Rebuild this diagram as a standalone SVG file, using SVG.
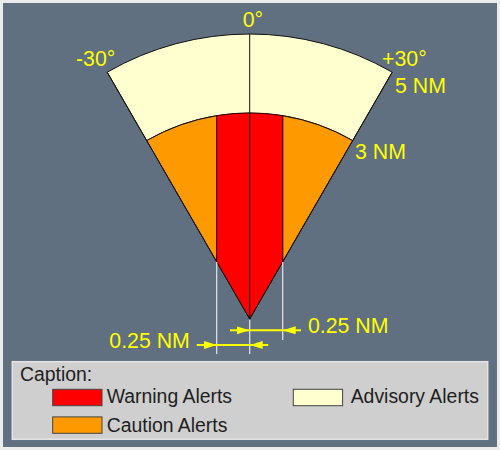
<svg xmlns="http://www.w3.org/2000/svg" width="500" height="450" viewBox="0 0 500 450">
<defs>
<style>
.lbl{font-family:"Liberation Sans",Arial,sans-serif;font-size:21.3px;fill:#ffff00}
.cap{font-family:"Liberation Sans",Arial,sans-serif;font-size:19.4px;fill:#1e1e1e}
.zone{stroke:#111;stroke-width:1;stroke-linejoin:round}
.ext{stroke:#e6e6e6;stroke-width:1.2;fill:none}
.dim{stroke:#ffff00;stroke-width:2;fill:none}
.sw{stroke:#444;stroke-width:1}
</style>
<marker id="ah" viewBox="0 0 13 8" refX="13" refY="4" markerWidth="13" markerHeight="8" markerUnits="userSpaceOnUse" orient="auto">
<path d="M0,0 L13,4 L0,8 Z" fill="#ffff00"/>
</marker>
</defs>
<rect x="0" y="0" width="500" height="450" fill="#ececec"/>
<rect x="3" y="3" width="494" height="444" fill="#607080"/>

<g id="advisory-zone">
<path class="zone" fill="#ffffd0" d="M107.2,72.2 A285,285 0 0 1 392.2,72.2 L352.7,140.6 A206,206 0 0 0 146.7,140.6 Z"/>
</g>
<g id="caution-zone">
<path class="zone" fill="#ff9900" d="M146.7,140.6 A206,206 0 0 1 216.7,115.7 L216.7,261.8 Z"/>
<path class="zone" fill="#ff9900" d="M282.7,115.7 A206,206 0 0 1 352.7,140.6 L282.7,261.8 Z"/>
</g>
<g id="warning-zone">
<path fill="#ff0000" stroke="#3a0000" stroke-width="0.9" stroke-linejoin="round" d="M216.7,261.8 L216.7,115.7 A206,206 0 0 1 282.7,115.7 L282.7,261.8 L249.7,319 Z"/>
</g>
<g id="sector-outline">
<path fill="none" stroke="#111" stroke-width="1" d="M107.2,72.2 L249.7,319 L392.2,72.2"/>
<line x1="249.7" y1="34" x2="249.7" y2="319" stroke="#111" stroke-width="1"/>
</g>

<g id="connectors">
<line class="ext" x1="216.7" y1="262" x2="216.7" y2="354"/>
<line class="ext" x1="249.7" y1="320" x2="249.7" y2="354"/>
<line class="ext" x1="282.7" y1="262" x2="282.7" y2="340"/>
<path class="dim" d="M230,330.3 L249.7,330.3" marker-end="url(#ah)"/>
<path class="dim" d="M249.7,330.3 L282.7,330.3"/>
<path class="dim" d="M301,330.3 L282.7,330.3" marker-end="url(#ah)"/>
<path class="dim" d="M196.7,345 L216.7,345" marker-end="url(#ah)"/>
<path class="dim" d="M216.7,345 L249.7,345"/>
<path class="dim" d="M268.3,345 L249.7,345" marker-end="url(#ah)"/>
</g>

<g id="labels">
<text class="lbl" x="242.7" y="27">0°</text>
<text class="lbl" x="76" y="66">-30°</text>
<text class="lbl" x="382" y="66">+30°</text>
<text class="lbl" x="395" y="92.7">5 NM</text>
<text class="lbl" x="355" y="159.3">3 NM</text>
<text class="lbl" x="308" y="333.3">0.25 NM</text>
<text class="lbl" x="109.3" y="347.7">0.25 NM</text>
</g>

<g id="caption">
<rect x="12.3" y="361.7" width="475.4" height="77.6" fill="#cfcfcf" stroke="#e4e4e4" stroke-width="1.5"/>
<text class="cap" x="20" y="380.7">Caption:</text>
<rect class="sw" x="52.7" y="389.3" width="49.3" height="16.4" fill="#ff0000"/>
<text class="cap" x="106.7" y="403.3">Warning Alerts</text>
<rect class="sw" x="52.7" y="416.9" width="49.3" height="16.4" fill="#ff9900"/>
<text class="cap" x="106.7" y="431.5">Caution Alerts</text>
<rect class="sw" x="293.3" y="389.3" width="49.3" height="16.4" fill="#ffffd0"/>
<text class="cap" x="350.7" y="403.3">Advisory Alerts</text>
</g>
</svg>
